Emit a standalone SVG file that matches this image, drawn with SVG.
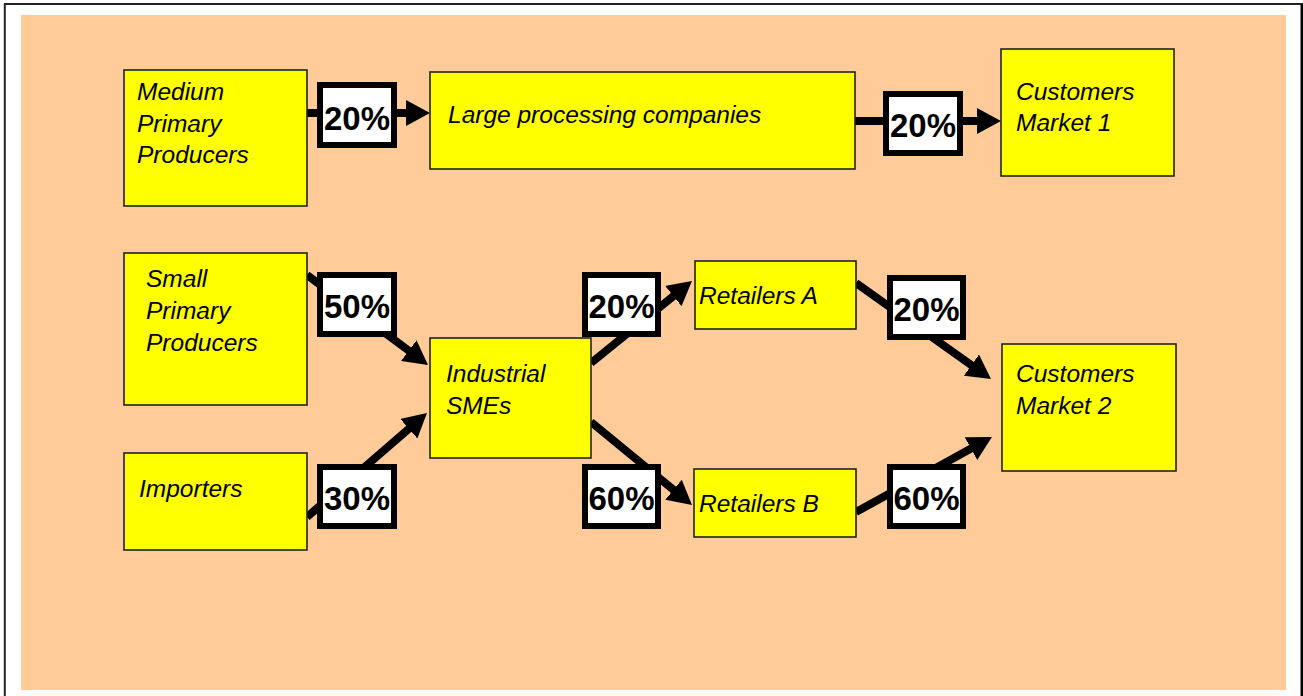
<svg xmlns="http://www.w3.org/2000/svg" width="1303" height="696" viewBox="0 0 1303 696">
  <style>
    .node rect { fill: #FFFF00; stroke: #222; stroke-width: 1.6; }
    .node text { font-family: "Liberation Sans", Arial, sans-serif; font-style: italic; font-size: 24.5px; fill: #000; }
    .flow { stroke: #000; stroke-width: 8; fill: none; marker-end: url(#head); }
    .share rect { fill: #fff; stroke: #000; stroke-width: 6; }
    .share text { font-family: "Liberation Sans", Arial, sans-serif; font-weight: bold; font-size: 33px; text-anchor: middle; fill: #000; }
  </style>
  <defs>
    <marker id="head" markerUnits="userSpaceOnUse" markerWidth="26" markerHeight="26" refX="10" refY="13" orient="auto">
      <path d="M0,0 L24,13 L0,26 z" fill="#000"/>
    </marker>
  </defs>

  <!-- page frame and backdrop -->
  <rect x="0" y="0" width="1303" height="696" fill="#fff"/>
  <line x1="4" y1="4" x2="1303" y2="4" stroke="#222" stroke-width="2"/>
  <line x1="4.8" y1="4" x2="4.8" y2="696" stroke="#222" stroke-width="2"/>
  <line x1="1302" y1="4" x2="1302" y2="696" stroke="#000" stroke-width="3"/>
  <rect x="21" y="15" width="1265" height="675" fill="#FFCC99"/>

  <!-- connectors -->
  <g id="connectors">
    <line class="flow" x1="307" y1="113" x2="416" y2="113"/>
    <line class="flow" x1="855" y1="121" x2="987" y2="121"/>
    <line class="flow" x1="307" y1="275" x2="416.8" y2="356.6"/>
    <line class="flow" x1="307" y1="517" x2="416.4" y2="422.2"/>
    <line class="flow" x1="591" y1="363" x2="681.1" y2="289.8"/>
    <line class="flow" x1="591" y1="422" x2="681.2" y2="496.1"/>
    <line class="flow" x1="856" y1="283" x2="979.6" y2="370.9"/>
    <line class="flow" x1="856" y1="512" x2="979.7" y2="443.8"/>
  </g>

  <!-- share labels on the flows -->
  <g id="shares">
    <g class="share" id="share-medium-large"><rect x="320" y="85" width="74" height="60"/><text x="357" y="130">20%</text></g>
    <g class="share" id="share-large-market1"><rect x="886" y="94" width="74" height="59"/><text x="923" y="137">20%</text></g>
    <g class="share" id="share-small-smes"><rect x="320" y="275" width="74" height="59"/><text x="357" y="318">50%</text></g>
    <g class="share" id="share-importers-smes"><rect x="320" y="467" width="74" height="59"/><text x="357" y="510">30%</text></g>
    <g class="share" id="share-smes-reta"><rect x="585" y="275" width="73" height="59"/><text x="621.5" y="318">20%</text></g>
    <g class="share" id="share-smes-retb"><rect x="585" y="467" width="73" height="59"/><text x="621.5" y="510">60%</text></g>
    <g class="share" id="share-reta-market2"><rect x="890" y="278" width="73" height="59"/><text x="926.5" y="321">20%</text></g>
    <g class="share" id="share-retb-market2"><rect x="890" y="467" width="73" height="59"/><text x="926.5" y="510">60%</text></g>
  </g>

  <!-- nodes -->
  <g class="node" id="medium-producers">
    <rect x="124" y="70" width="183" height="136"/>
    <text x="137" y="100">Medium</text>
    <text x="137" y="131.5">Primary</text>
    <text x="137" y="163">Producers</text>
  </g>
  <g class="node" id="large-processing">
    <rect x="430" y="72" width="425" height="97"/>
    <text x="448" y="123">Large processing companies</text>
  </g>
  <g class="node" id="market-1">
    <rect x="1001" y="49" width="173" height="127"/>
    <text x="1016" y="100">Customers</text>
    <text x="1016" y="131">Market 1</text>
  </g>
  <g class="node" id="small-producers">
    <rect x="124" y="253" width="183" height="152"/>
    <text x="146" y="287">Small</text>
    <text x="146" y="319">Primary</text>
    <text x="146" y="351">Producers</text>
  </g>
  <g class="node" id="importers">
    <rect x="124" y="453" width="183" height="97"/>
    <text x="139" y="497">Importers</text>
  </g>
  <g class="node" id="industrial-smes">
    <rect x="430" y="338" width="161" height="120"/>
    <text x="446" y="382">Industrial</text>
    <text x="446" y="414">SMEs</text>
  </g>
  <g class="node" id="retailers-a">
    <rect x="695" y="261" width="161" height="68"/>
    <text x="699" y="304">Retailers A</text>
  </g>
  <g class="node" id="retailers-b">
    <rect x="694" y="469" width="162" height="68"/>
    <text x="699" y="512">Retailers B</text>
  </g>
  <g class="node" id="market-2">
    <rect x="1002" y="344" width="174" height="127"/>
    <text x="1016" y="382">Customers</text>
    <text x="1016" y="414">Market 2</text>
  </g>
</svg>
